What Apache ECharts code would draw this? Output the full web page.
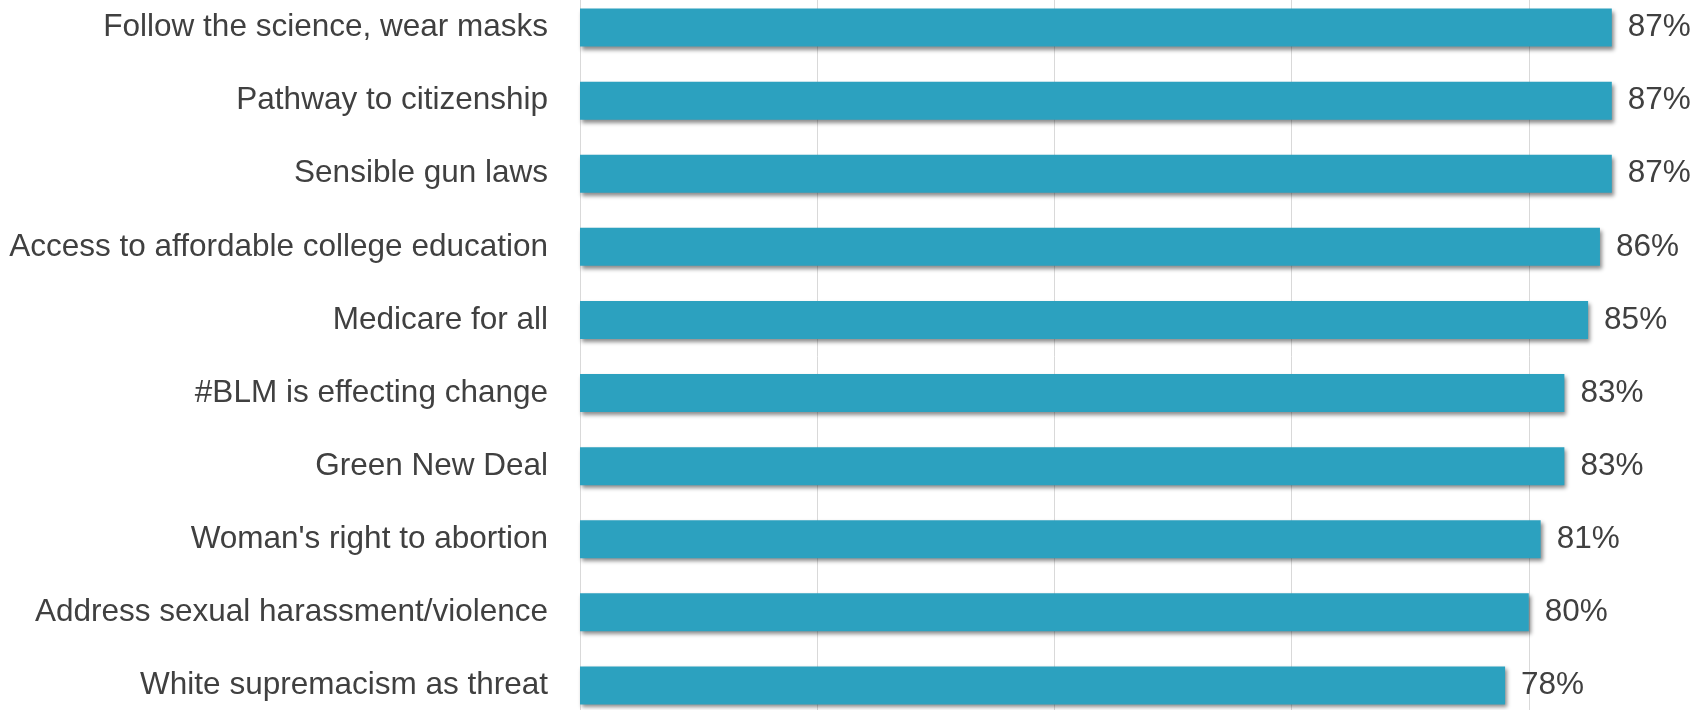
<!DOCTYPE html>
<html>
<head>
<meta charset="utf-8">
<script src="https://cdn.jsdelivr.net/npm/echarts@6/dist/echarts.min.js"></script>
<style>
html,body{margin:0;padding:0;background:#fff;overflow:hidden;width:1693px;height:710px;position:relative;}
#chart{position:absolute;left:0;top:-9px;width:1766px;height:731px;}
</style>
</head>
<body>
<div id="chart"></div>
<script>
const categories = [
  "Follow the science, wear masks",
  "Pathway to citizenship",
  "Sensible gun laws",
  "Access to affordable college education",
  "Medicare for all",
  "#BLM is effecting change",
  "Green New Deal",
  "Woman's right to abortion",
  "Address sexual harassment/violence",
  "White supremacism as threat"
];
const values = [87, 87, 87, 86, 85, 83, 83, 81, 80, 78];

const FONT = "'Liberation Sans', Arial, Helvetica, sans-serif";
const chart = echarts.init(document.getElementById('chart'), null, {renderer: 'canvas'});
chart.setOption({
  animation: false,
  backgroundColor: '#ffffff',
  grid: {left: 580, right: 0, top: 0, bottom: 0, containLabel: false},
  xAxis: {
    type: 'value', min: 0, max: 100, interval: 20,
    axisLabel: {show: false}, axisTick: {show: false}, axisLine: {show: false},
    splitLine: {show: true, lineStyle: {color: '#d9d9d9', width: 1}}
  },
  yAxis: {
    type: 'category', data: categories, inverse: true,
    axisTick: {show: false},
    axisLine: {show: true, lineStyle: {color: '#d9d9d9', width: 1}},
    axisLabel: {color: '#404040', fontSize: 31.5, fontFamily: FONT, margin: 32}
  },
  series: [{
    type: 'bar', data: values, barCategoryGap: '48%',
    itemStyle: {color: '#2CA1BF', shadowColor: 'rgba(0,0,0,0.45)', shadowBlur: 4, shadowOffsetX: 2, shadowOffsetY: 3},
    label: {show: true, position: 'right', distance: 16, formatter: '{c}%', color: '#404040', fontSize: 31.5, fontFamily: FONT}
  }]
});
</script>
</body>
</html>
